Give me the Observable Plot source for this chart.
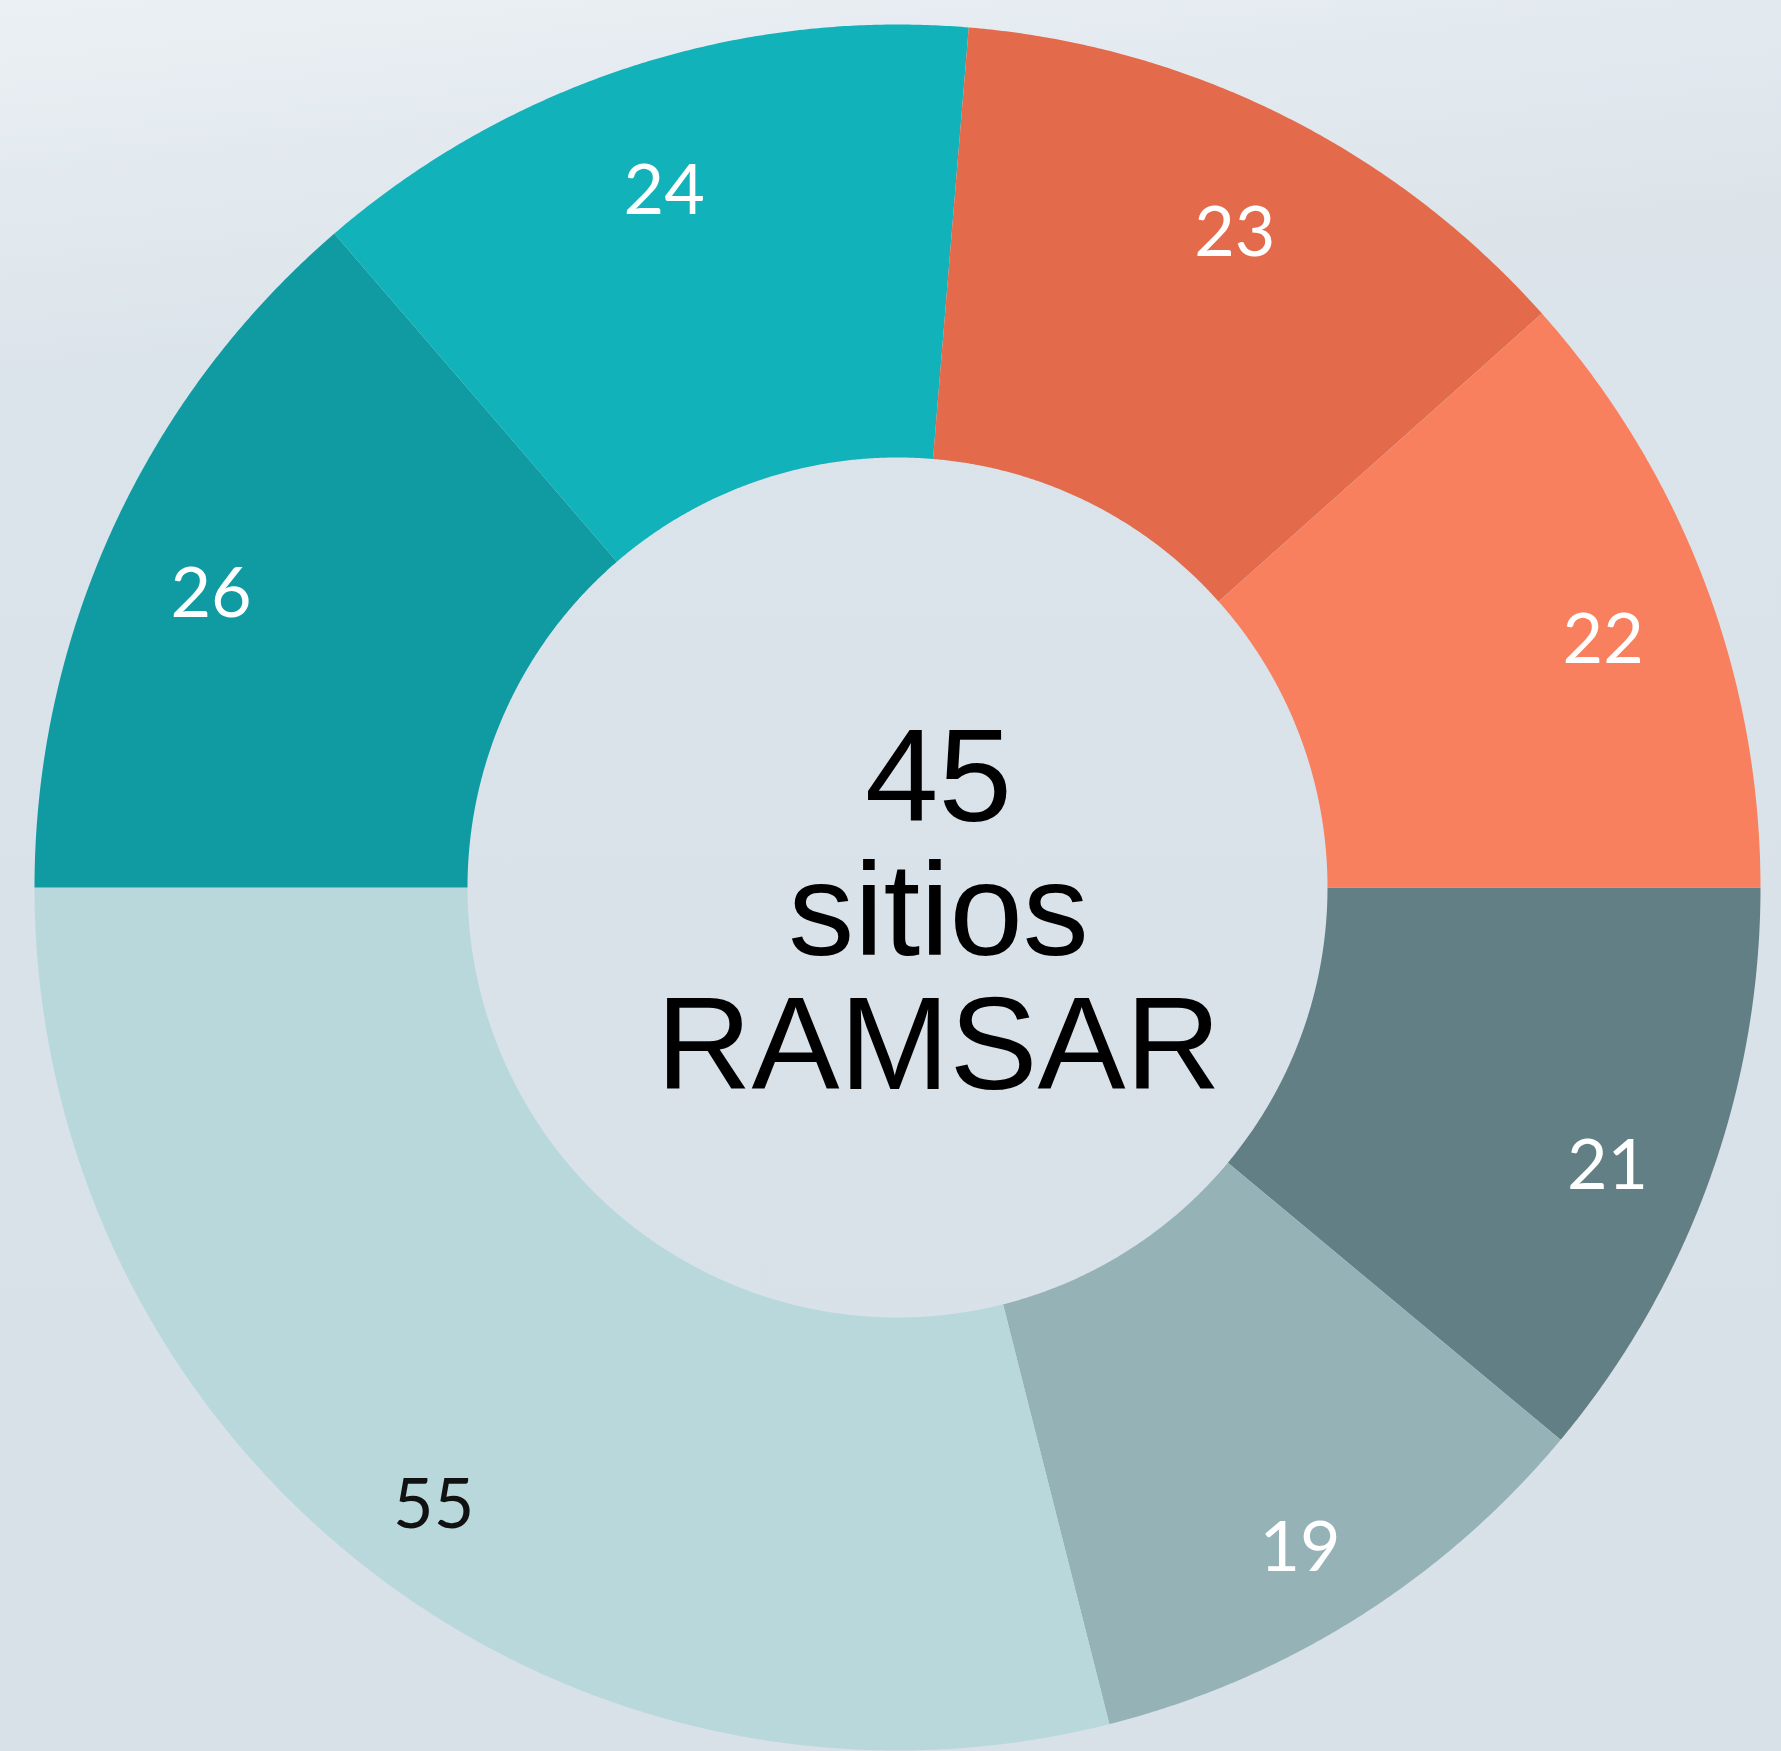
<!DOCTYPE html>
<html>
<head>
<meta charset="utf-8">
<script src="https://cdn.jsdelivr.net/npm/d3@7"></script>
<script src="https://cdn.jsdelivr.net/npm/@observablehq/plot@0.6"></script>
<style>
  html, body { margin: 0; padding: 0; width: 1781px; height: 1751px; overflow: hidden; }
  body {
    background:
      linear-gradient(174deg, rgba(240,244,247,0.75) 0%, rgba(236,241,245,0.45) 9%, rgba(230,236,241,0) 20%),
      linear-gradient(180deg, #dde5eb 0%, #d9e2e9 55%, #d8e1e8 100%);
  }
  #chart svg { display: block; }
</style>
</head>
<body>
<div id="chart"></div>
<script>
// ---- data (clockwise from 3 o'clock) ----
const categories = ["s1", "s2", "s3", "s4", "s5", "s6", "s7"];
const values     = [21, 19, 55, 26, 24, 23, 22];
const colors     = ["#637f86", "#95b2b7", "#b8d8dc", "#109ba3", "#11b2ba", "#e36b4c", "#f9805f"];
const labelColors = ["white", "white", "black", "white", "white", "white", "white"];
const centerLines = ["45", "sitios", "RAMSAR"];

// ---- geometry (unit = outer radius) ----
const innerRatio = 430 / 863;
const labelRatio = 0.875;

const rows = categories.map((c, i) => ({key: c, value: values[i], labelColor: labelColors[i]}));
const arcs = d3.pie().sort(null).value(d => d.value)
  .startAngle(Math.PI / 2).endAngle(Math.PI / 2 + 2 * Math.PI)(rows);

const step = Math.PI / 720;
const ringPoints = [];
for (const a of arcs) {
  const n = Math.max(2, Math.ceil((a.endAngle - a.startAngle) / step));
  for (let i = 0; i <= n; i++) {
    const t = a.startAngle + (a.endAngle - a.startAngle) * i / n;
    ringPoints.push({key: a.data.key, x: Math.sin(t), y: Math.cos(t)});
  }
  for (let i = n; i >= 0; i--) {
    const t = a.startAngle + (a.endAngle - a.startAngle) * i / n;
    ringPoints.push({key: a.data.key, x: innerRatio * Math.sin(t), y: innerRatio * Math.cos(t)});
  }
}
const labels = arcs.map(a => {
  const m = (a.startAngle + a.endAngle) / 2;
  return {x: labelRatio * Math.sin(m), y: labelRatio * Math.cos(m), text: String(a.data.value), labelColor: a.data.labelColor};
});

const labelFont = "Lato, 'Noto Sans', sans-serif";
const centerFont = "'Liberation Sans', Arial, Helvetica, sans-serif";

const chart = Plot.plot({
  width: 1781,
  height: 1751,
  marginLeft: 34,
  marginRight: 21,
  marginTop: 24,
  marginBottom: 1,
  x: {domain: [-1, 1], axis: null},
  y: {domain: [-1, 1], axis: null},
  color: {domain: categories, range: colors},
  style: {background: "transparent", overflow: "visible"},
  marks: [
    Plot.line(ringPoints, {x: "x", y: "y", z: "key", fill: "key", stroke: "none", curve: "linear-closed"}),
    Plot.text(labels, {filter: d => d.labelColor === "white", x: "x", y: "y", text: "text", fill: "white",
      fontSize: 70, fontFamily: labelFont, dy: 22}),
    Plot.text(labels, {filter: d => d.labelColor === "black", x: "x", y: "y", text: "text", fill: "#111",
      fontSize: 70, fontFamily: labelFont, dy: 22}),
    Plot.text([centerLines.join("\n")], {frameAnchor: "middle", text: d => d, fill: "#000",
      fontSize: 132, fontFamily: centerFont, lineHeight: 1.015, dx: 41, dy: 25, textAnchor: "middle"})
  ]
});
document.getElementById("chart").appendChild(chart);
</script>
</body>
</html>
